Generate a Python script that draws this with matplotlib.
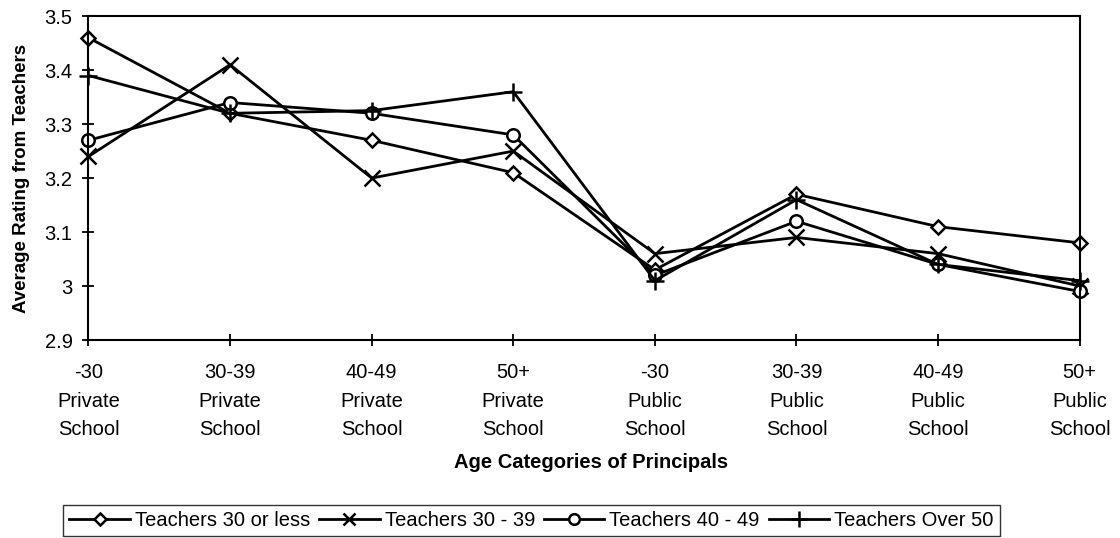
import matplotlib.pyplot as plt

plt.rcParams['font.family'] = ['Liberation Sans', 'DejaVu Sans']

categories = ["-30\nPrivate\nSchool", "30-39\nPrivate\nSchool", "40-49\nPrivate\nSchool", "50+\nPrivate\nSchool",
              "-30\nPublic\nSchool", "30-39\nPublic\nSchool", "40-49\nPublic\nSchool", "50+\nPublic\nSchool"]

teachers_30_or_less = [3.46, 3.32, 3.27, 3.21, 3.03, 3.17, 3.11, 3.08]
teachers_30_39 = [3.24, 3.41, 3.20, 3.25, 3.06, 3.09, 3.06, 3.00]
teachers_40_49 = [3.27, 3.34, 3.32, 3.28, 3.02, 3.12, 3.04, 2.99]
teachers_over_50 = [3.39, 3.32, 3.325, 3.36, 3.01, 3.16, 3.04, 3.01]

series = [
    ("Teachers 30 or less", teachers_30_or_less, 'D', 7),
    ("Teachers 30 - 39", teachers_30_39, 'x', 11),
    ("Teachers 40 - 49", teachers_40_49, 'o', 9),
    ("Teachers Over 50", teachers_over_50, '+', 13),
]

fig = plt.figure(figsize=(11.2, 5.38), dpi=100)
ax = fig.add_axes([0.079, 0.368, 0.885, 0.602])

x = list(range(len(categories)))
for label, vals, mk, ms in series:
    ax.plot(x, vals, color='black', linewidth=2, marker=mk, markersize=ms,
            markerfacecolor='white', markeredgecolor='black', markeredgewidth=1.8,
            label=label, clip_on=False)

ax.set_xlim(0, 7)
ax.set_ylim(2.9, 3.5)
ax.set_yticks([2.9, 3.0, 3.1, 3.2, 3.3, 3.4, 3.5])
ax.set_yticklabels(["2.9", "3", "3.1", "3.2", "3.3", "3.4", "3.5"])
ax.set_xticks(x)
ax.set_xticklabels(categories, linespacing=1.65)
ax.tick_params(axis='both', direction='inout', length=9, width=1.3, labelsize=14.5)
ax.tick_params(axis='x', pad=12)
ax.tick_params(axis='y', pad=7)
for s in ax.spines.values():
    s.set_linewidth(1.5)

ax.set_ylabel("Average Rating from Teachers", fontsize=13.5, fontweight='bold', va='center')
ax.yaxis.set_label_coords(-0.068, 0.5)
ax.set_xlabel("Age Categories of Principals", fontsize=14.5, fontweight='bold', va='center')
ax.xaxis.set_label_coords(0.507, -0.377)

leg = ax.legend(loc='center', bbox_to_anchor=(0.447, -0.556), ncol=4, fontsize=14.5,
                frameon=True, fancybox=False, edgecolor='black', handlelength=3.0,
                handletextpad=0.25, columnspacing=0.45, borderpad=0.3, borderaxespad=0,
                markerscale=0.85)
leg.get_frame().set_linewidth(1.0)

fig.savefig("out.png", dpi=100)
